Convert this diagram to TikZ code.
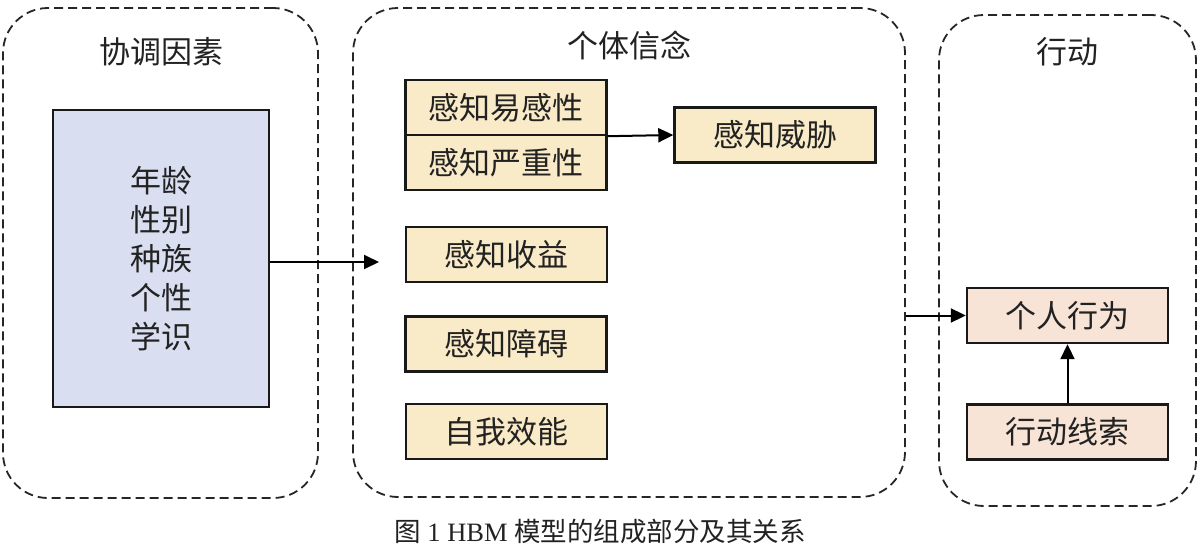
\documentclass[tikz,border=0pt]{standalone}
\usepackage{fontspec}
\setmainfont{Liberation Serif}
\newfontfamily\cjk{Noto Sans CJK SC}
\usetikzlibrary{arrows.meta}
\definecolor{tanfill}{HTML}{FAEBC8}
\definecolor{peachfill}{HTML}{F8E4D6}
\definecolor{bluefill}{HTML}{D9DEF1}
\definecolor{txt}{HTML}{222222}
\begin{document}
\begin{tikzpicture}[x=1pt,y=-1pt,
  group/.style={draw=black!85, line width=1.8pt, dash pattern=on 9pt off 5pt, rounded corners=45pt, inner sep=0pt},
  title/.style={font=\fontsize{31}{36}\selectfont\cjk, text=txt, inner sep=0pt},
  box/.style={draw=black!90, line width=2.4pt, inner sep=0pt, minimum width=201pt, minimum height=55pt, font=\fontsize{31}{36}\selectfont\cjk, text=txt},
  tanbox/.style={box, fill=tanfill},
  peachbox/.style={box, fill=peachfill},
  conn/.style={draw=black, line width=2pt, -{Triangle[length=15pt,width=14pt]}}
]
\useasboundingbox (0,0) rectangle (1200,552);

% groups
\node[group, minimum width=315pt, minimum height=490pt] (g1) at (160.5,253) {};
\node[group, minimum width=552pt, minimum height=489pt] (g2) at (629,252.5) {};
\node[group, minimum width=257pt, minimum height=491pt] (g3) at (1067.5,260.5) {};

\node[title] (t1) at (161,52) {协调因素};
\node[title] (t2) at (629,46) {个体信念};
\node[title] (t3) at (1067,52) {行动};

% left box
\node[box, fill=bluefill, minimum width=216pt, minimum height=297pt, align=center,
      font=\fontsize{31}{39}\selectfont\cjk] (blue) at (161,258.5) {年龄\\性别\\种族\\个性\\学识};

% middle boxes
\node[tanbox] (sus) at (506,107.5) {感知易感性};
\node[tanbox] (sev) at (506,162.5) {感知严重性};
\node[tanbox] (threat) at (775,135) {感知威胁};
\node[tanbox] (ben) at (506.5,254.5) {感知收益};
\node[tanbox] (bar) at (506,344) {感知障碍};
\node[tanbox] (eff) at (506.5,431.5) {自我效能};

% right boxes
\node[peachbox] (act) at (1067.5,315.5) {个人行为};
\node[peachbox] (cue) at (1067.5,432) {行动线索};

% connectors
\coordinate (inarrow) at (379,262);
\draw[conn] (blue.east |- inarrow) -- (inarrow);
\draw[conn] (sus.south east) -- (threat.west);
\draw[conn] (g2.east |- act.west) -- (act.west);
\draw[conn] (cue.north) -- (act.south);

% caption
\node[font=\fontsize{26.5}{30}\selectfont, text=txt, inner sep=0pt] (cap) at (600,531)
  {{\cjk 图}\hspace{0.25em}1 HBM\hspace{0.25em}{\cjk 模型的组成部分及其关系}};
\end{tikzpicture}
\end{document}
